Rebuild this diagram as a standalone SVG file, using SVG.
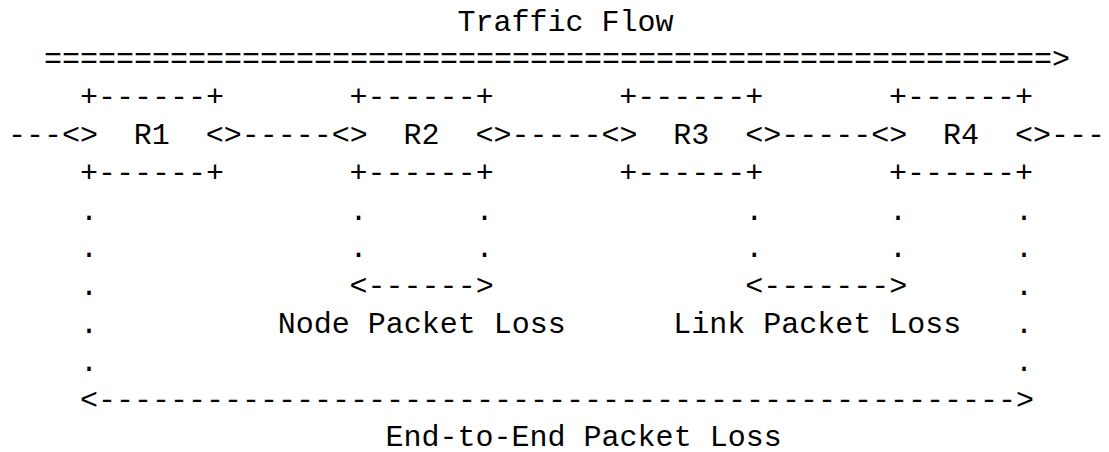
<svg xmlns="http://www.w3.org/2000/svg" width="1109" height="452" viewBox="0 0 1109 452">
<style>
text { font-family: "Liberation Mono", "DejaVu Sans Mono", monospace; font-size: 30px; fill: #000; white-space: pre; }
</style>
<rect width="1109" height="452" fill="#fff"/>
<g id="title">
<text x="457.5" y="30.5">Traffic Flow</text>
</g>
<g id="connectors">
<text x="43.96" y="68.3">========================================================&gt;</text>
<text x="8" y="143.9">---&lt;&gt;</text>
<text x="205.78" y="143.9">&lt;&gt;-----&lt;&gt;</text>
<text x="475.48" y="143.9">&lt;&gt;-----&lt;&gt;</text>
<text x="745.18" y="143.9">&lt;&gt;-----&lt;&gt;</text>
<text x="1014.88" y="143.9">&lt;&gt;---</text>
<g id="guides">
<text x="79.92" y="219.5">.</text><text x="349.62" y="219.5">.</text><text x="475.48" y="219.5">.</text><text x="745.18" y="219.5">.</text><text x="889.02" y="219.5">.</text><text x="1014.88" y="219.5">.</text>
<text x="79.92" y="257.3">.</text><text x="349.62" y="257.3">.</text><text x="475.48" y="257.3">.</text><text x="745.18" y="257.3">.</text><text x="889.02" y="257.3">.</text><text x="1014.88" y="257.3">.</text>
<text x="79.92" y="295.1">.</text><text x="1014.88" y="295.1">.</text>
<text x="79.92" y="332.9">.</text><text x="1014.88" y="332.9">.</text>
<text x="79.92" y="370.7">.</text><text x="1014.88" y="370.7">.</text>
</g>
<text x="349.62" y="295.1">&lt;------&gt;</text>
<text x="745.18" y="295.1">&lt;-------&gt;</text>
<text x="79.92" y="408.5">&lt;---------------------------------------------------&gt;</text>
</g>
<g id="R1">
<text x="79.92" y="106.1">+------+</text>
<text x="133.86" y="143.9">R1</text>
<text x="79.92" y="181.7">+------+</text>
</g>
<g id="R2">
<text x="349.62" y="106.1">+------+</text>
<text x="403.56" y="143.9">R2</text>
<text x="349.62" y="181.7">+------+</text>
</g>
<g id="R3">
<text x="619.32" y="106.1">+------+</text>
<text x="673.26" y="143.9">R3</text>
<text x="619.32" y="181.7">+------+</text>
</g>
<g id="R4">
<text x="889.02" y="106.1">+------+</text>
<text x="942.96" y="143.9">R4</text>
<text x="889.02" y="181.7">+------+</text>
</g>
<g id="labels">
<text x="277.7" y="332.9">Node Packet Loss</text>
<text x="673.26" y="332.9">Link Packet Loss</text>
<text x="385.58" y="446.3">End-to-End Packet Loss</text>
</g>
</svg>
